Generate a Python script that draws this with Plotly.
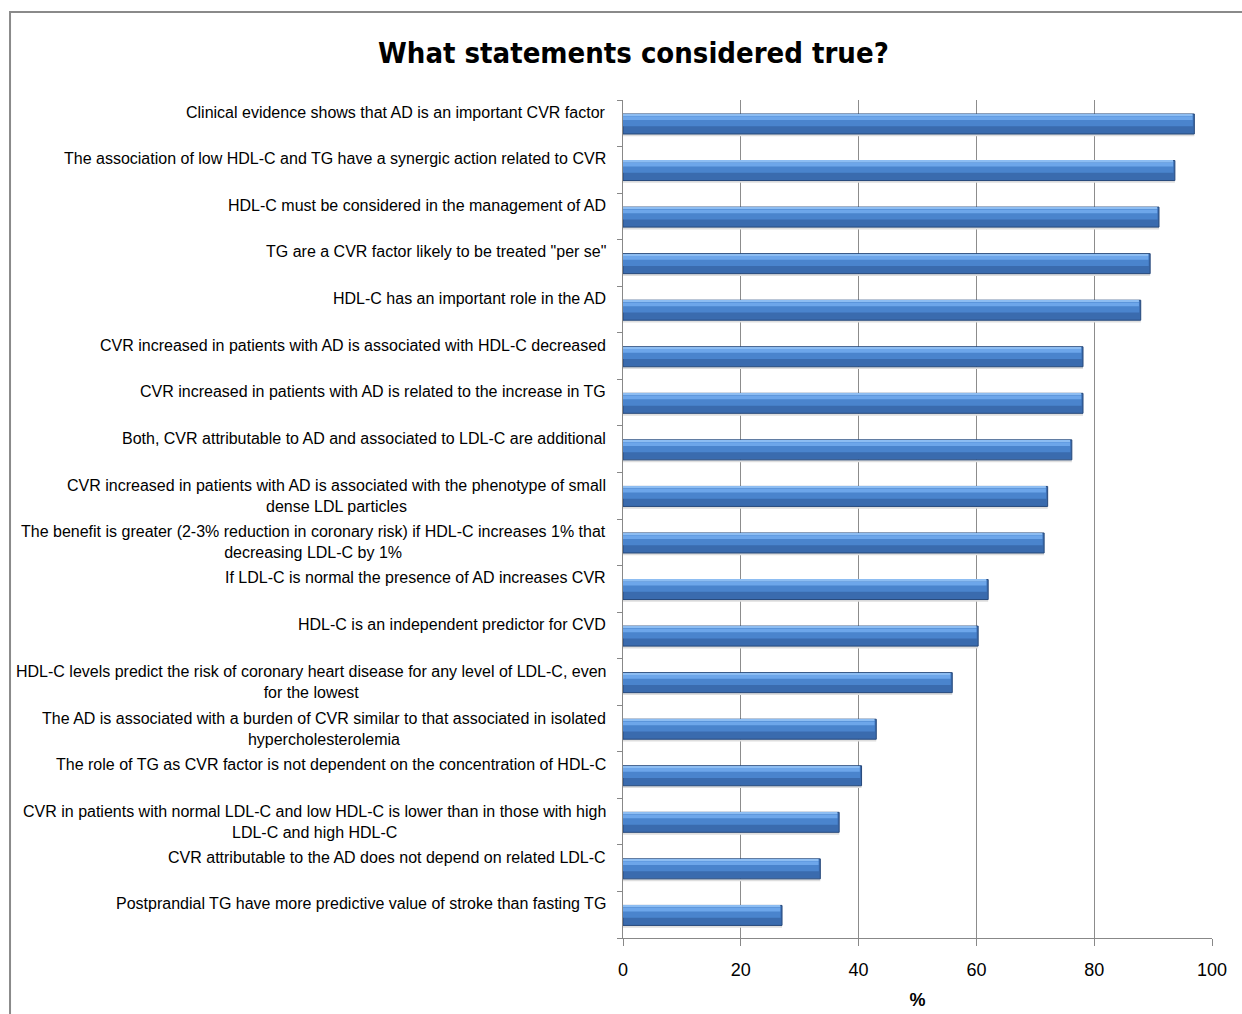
import plotly.graph_objects as go

statements = [
    "Clinical evidence shows that AD is an important CVR factor",
    "The association of low HDL-C and TG have a synergic action related to CVR",
    "HDL-C must be considered in the management of AD",
    "TG are a CVR factor likely to be treated \"per se\"",
    "HDL-C has an important role in the AD",
    "CVR increased in patients with AD is associated with HDL-C decreased",
    "CVR increased in patients with AD is related to the increase in TG",
    "Both, CVR attributable to AD and associated to LDL-C are additional",
    "CVR increased in patients with AD is associated with the phenotype of small<br>dense LDL particles",
    "The benefit is greater (2-3% reduction in coronary risk) if HDL-C increases 1% that<br>decreasing LDL-C by 1%",
    "If LDL-C is normal the presence of AD increases CVR",
    "HDL-C is an independent predictor for CVD",
    "HDL-C levels predict the risk of coronary heart disease for any level of LDL-C, even<br>for the lowest",
    "The AD is associated with a burden of CVR similar to that associated in isolated<br>hypercholesterolemia",
    "The role of TG as CVR factor is not dependent on the concentration of HDL-C",
    "CVR in patients with normal LDL-C and low HDL-C is lower than in those with high<br>LDL-C and high HDL-C",
    "CVR attributable to the AD does not depend on related LDL-C",
    "Postprandial TG have more predictive value of stroke than fasting TG",
]
percent_true = [97.0, 93.7, 91.0, 89.5, 87.9, 78.1, 78.1, 76.2, 72.1, 71.5,
                62.0, 60.3, 55.9, 43.0, 40.5, 36.7, 33.5, 27.0]
x_ticks = [0, 20, 40, 60, 80, 100]

cats = list(range(len(statements)))

fig = go.Figure()
# soft shadow under each bar
fig.add_trace(go.Bar(
    x=percent_true, y=cats, orientation="h",
    width=0.05, offset=0.23,
    marker=dict(color="#DEDEDE", line=dict(width=0)),
    hoverinfo="skip", showlegend=False,
))
# cylinder body
fig.add_trace(go.Bar(
    x=percent_true, y=cats, orientation="h",
    width=0.43, offset=-0.2,
    marker=dict(color="#3A6BAE", line=dict(color="#26487A", width=1)),
    hovertext=statements, hoverinfo="text+x", showlegend=False,
))
# upper lighter body
fig.add_trace(go.Bar(
    x=[v - 0.25 for v in percent_true], y=cats, orientation="h",
    width=0.25, offset=-0.185,
    marker=dict(color="#4A84CD", line=dict(width=0)),
    hoverinfo="skip", showlegend=False,
))
# highlight stripe
fig.add_trace(go.Bar(
    x=[v - 0.3 for v in percent_true], y=cats, orientation="h",
    width=0.08, offset=-0.15,
    marker=dict(color="#6DA6EA", line=dict(width=0)),
    hoverinfo="skip", showlegend=False,
))
# top edge
fig.add_trace(go.Bar(
    x=[v - 0.3 for v in percent_true], y=cats, orientation="h",
    width=0.03, offset=-0.19,
    marker=dict(color="#8DBDF2", line=dict(width=0)),
    hoverinfo="skip", showlegend=False,
))

annotations = []
for i, s in enumerate(statements):
    annotations.append(dict(
        x=0, xref="paper", y=i, yref="y",
        text=s, showarrow=False, xanchor="right", yanchor="middle",
        align="center", xshift=-15,
        yshift=0 if "<br>" in s else 11,
        font=dict(family="Liberation Sans, Arial, sans-serif", size=16, color="#000000"),
    ))

fig.update_layout(
    width=1242, height=1014,
    margin=dict(l=623, r=30, t=100, b=76),
    paper_bgcolor="white", plot_bgcolor="white",
    barmode="overlay",
    title=dict(text="<b>What statements considered true?</b>", x=0.51, xanchor="center",
               y=0.948, yanchor="middle",
               font=dict(family="Liberation Sans Narrow, DejaVu Sans Condensed, Arial", size=29, color="#000")),
    xaxis=dict(range=[0, 100], tickvals=x_ticks, ticks="outside", ticklen=7, tickcolor="#888",
               ticklabelstandoff=8, automargin=False,
               showgrid=True, gridcolor="#8C8C8C", gridwidth=1,
               showline=True, linecolor="#888", linewidth=1, zeroline=False,
               tickfont=dict(family="Liberation Sans, Arial", size=18, color="#000"),
               title=dict(text="<b>%</b>", font=dict(family="Liberation Sans, Arial", size=18, color="#000"),
                          standoff=14)),
    yaxis=dict(range=[len(cats) - 0.5, -0.5], tickvals=[c - 0.5 for c in cats] + [len(cats) - 0.5],
               showticklabels=False, ticks="outside", ticklen=5, tickcolor="#888", automargin=False,
               showgrid=False, showline=True, linecolor="#888", linewidth=1, zeroline=False),
    annotations=annotations,
    shapes=[dict(type="rect", xref="paper", yref="paper",
                 x0=-1.0407, x1=1.06, y0=-0.1, y1=1.105,
                 line=dict(color="#8A8A8A", width=2), fillcolor="rgba(0,0,0,0)", layer="below")],
)

fig.write_html("out.html")
